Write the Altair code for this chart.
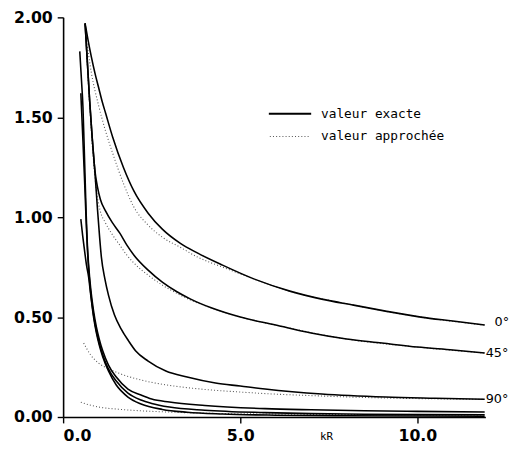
import altair as alt
import pandas as pd

# ---- exact values (solid) ----
e0_u = [0.62, 0.70, 0.80, 0.90, 1.00, 1.10, 1.20, 1.40, 1.70, 2.00, 2.40, 2.80, 3.30, 3.80, 4.50, 5.40, 6.40, 7.30, 8.20, 9.10, 10.10, 11.00, 11.90]
e0_v = [1.97, 1.89, 1.80, 1.72, 1.65, 1.58, 1.52, 1.40, 1.25, 1.13, 1.02, 0.94, 0.87, 0.82, 0.76, 0.69, 0.63, 0.59, 0.56, 0.53, 0.50, 0.48, 0.46]

e45_u = [0.62, 0.68, 0.75, 0.82, 0.90, 0.97, 1.05, 1.20, 1.40, 1.60, 1.80, 2.00, 2.40, 2.80, 3.20, 3.60, 4.20, 5.00, 6.00, 7.00, 8.00, 9.00, 10.00, 11.00, 11.90]
e45_v = [1.97, 1.79, 1.58, 1.40, 1.23, 1.15, 1.09, 1.03, 0.97, 0.92, 0.86, 0.81, 0.735, 0.675, 0.628, 0.59, 0.545, 0.50, 0.46, 0.42, 0.39, 0.37, 0.35, 0.335, 0.32]

e90_u = [0.62, 0.68, 0.75, 0.82, 0.90, 0.97, 1.03, 1.08, 1.18, 1.28, 1.45, 1.64, 1.85, 2.05, 2.40, 2.90, 3.50, 4.30, 5.00, 5.70, 7.30, 9.10, 10.50, 11.90]
e90_v = [1.97, 1.79, 1.58, 1.40, 1.22, 1.04, 0.90, 0.80, 0.69, 0.61, 0.51, 0.44, 0.38, 0.33, 0.28, 0.23, 0.20, 0.17, 0.155, 0.14, 0.115, 0.10, 0.094, 0.089]

ea_u = [0.47, 0.52, 0.56, 0.59, 0.62, 0.65, 0.68, 0.72, 0.78, 0.86, 0.94, 1.02, 1.12, 1.28, 1.50, 1.83, 2.20, 2.50, 3.00, 4.00, 5.70, 7.00, 8.50, 10.00, 11.90]
ea_v = [1.83, 1.68, 1.55, 1.38, 1.20, 1.02, 0.88, 0.76, 0.64, 0.53, 0.45, 0.39, 0.33, 0.26, 0.20, 0.14, 0.11, 0.09, 0.075, 0.058, 0.042, 0.036, 0.031, 0.028, 0.025]

eb_u = [0.50, 0.53, 0.56, 0.59, 0.62, 0.65, 0.68, 0.72, 0.78, 0.86, 0.94, 1.02, 1.12, 1.28, 1.50, 1.83, 2.20, 2.50, 3.00, 4.00, 5.70, 7.00, 8.50, 10.00, 11.90]
eb_v = [1.62, 1.50, 1.38, 1.25, 1.12, 0.98, 0.86, 0.74, 0.62, 0.51, 0.43, 0.37, 0.31, 0.24, 0.18, 0.12, 0.085, 0.068, 0.05, 0.034, 0.022, 0.017, 0.014, 0.012, 0.011]

ec_u = [0.50, 0.55, 0.60, 0.66, 0.72, 0.78, 0.86, 0.94, 1.02, 1.12, 1.28, 1.50, 1.83, 2.20, 2.80, 3.50, 4.50, 6.00, 8.00, 10.00, 11.90]
ec_v = [0.99, 0.91, 0.84, 0.76, 0.70, 0.61, 0.50, 0.42, 0.36, 0.30, 0.23, 0.16, 0.10, 0.065, 0.038, 0.024, 0.015, 0.009, 0.006, 0.005, 0.004]

# ---- approximate values (dotted) ----
a0_u = [0.65, 0.80, 1.00, 1.20, 1.40, 1.70, 2.00, 2.40, 2.80, 3.30, 3.80, 4.50, 5.40, 6.40, 8.20, 10.10, 11.90]
a0_v = [1.90, 1.72, 1.56, 1.43, 1.32, 1.17, 1.05, 0.96, 0.90, 0.85, 0.80, 0.75, 0.69, 0.63, 0.56, 0.50, 0.46]

a45_u = [0.65, 0.75, 0.85, 0.95, 1.05, 1.20, 1.40, 1.60, 1.80, 2.00, 2.40, 2.80, 3.20, 3.60, 4.20, 5.00, 6.00, 8.00, 10.00, 11.90]
a45_v = [1.86, 1.56, 1.30, 1.12, 1.03, 0.97, 0.91, 0.86, 0.81, 0.77, 0.71, 0.66, 0.62, 0.585, 0.545, 0.50, 0.46, 0.39, 0.35, 0.32]

a90_u = [0.58, 0.78, 1.00, 1.30, 1.56, 2.20, 2.94, 4.00, 5.00, 5.72, 7.30, 9.10, 10.50, 11.90]
a90_v = [0.37, 0.31, 0.27, 0.24, 0.22, 0.185, 0.16, 0.138, 0.125, 0.117, 0.105, 0.095, 0.091, 0.088]

ab_u = [0.50, 0.75, 1.00, 1.56, 2.20, 2.94, 4.00, 5.72, 8.00, 10.00, 11.90]
ab_v = [0.074, 0.060, 0.050, 0.039, 0.031, 0.025, 0.019, 0.015, 0.012, 0.011, 0.010]

angle_labels = ["0°", "45°", "90°"]
legend_texts = ["valeur exacte", "valeur approchée"]

series = [
    ("e0", "exact", e0_u, e0_v), ("e45", "exact", e45_u, e45_v), ("e90", "exact", e90_u, e90_v),
    ("ea", "exact", ea_u, ea_v), ("eb", "exact", eb_u, eb_v), ("ec", "exact", ec_u, ec_v),
    ("a0", "approx", a0_u, a0_v), ("a45", "approx", a45_u, a45_v),
    ("a90", "approx", a90_u, a90_v), ("ab", "approx", ab_u, ab_v),
]
rows = []
for name, kind, us, vs in series:
    for a, b in zip(us, vs):
        rows.append({"curve": name, "kind": kind, "kR": a, "val": b})
df = pd.DataFrame(rows)

lab_df = pd.DataFrame({
    "label": angle_labels,
    "kR": [e0_u[-1], e45_u[-1], e90_u[-1]],
    "val": [e0_v[-1], e45_v[-1], e90_v[-1]],
})

xenc = alt.X("kR:Q", scale=alt.Scale(domain=[0, 11.92], nice=False, zero=False),
             axis=alt.Axis(values=[0, 5, 10], format=".1f", title="kR",
                           titleX=267, titleY=20, titleBaseline="middle",
                           titleFont="DejaVu Sans Mono", titleFontSize=11,
                           titleFontWeight="normal", titleColor="black"))
yenc = alt.Y("val:Q", scale=alt.Scale(domain=[0, 2], nice=False),
             axis=alt.Axis(values=[0, 0.5, 1, 1.5, 2], format=".2f", title=None))

base = alt.Chart(df).encode(x=xenc, y=yenc, detail="curve:N")

solid = base.transform_filter(alt.datum.kind == "exact").mark_line(
    color="black", strokeWidth=1.6, clip=True, interpolate="monotone")
dotted = base.transform_filter(alt.datum.kind == "approx").mark_line(
    color="#555555", strokeWidth=1.1, strokeDash=[1, 2.2], clip=True, interpolate="monotone")

lab0 = alt.Chart(lab_df).transform_filter(alt.datum.label == "0°").mark_text(
    align="left", baseline="middle", dx=10, dy=-3, font="DejaVu Sans", fontSize=13,
    color="black").encode(x="kR:Q", y="val:Q", text="label:N")
labs = alt.Chart(lab_df).transform_filter(alt.datum.label != "0°").mark_text(
    align="left", baseline="middle", dx=1, dy=0, font="DejaVu Sans", fontSize=13,
    color="black").encode(x="kR:Q", y="val:Q", text="label:N")

leg_df = pd.DataFrame({"t": legend_texts, "k": ["exact", "approx"]})
leg_solid = alt.Chart(leg_df).transform_filter(alt.datum.k == "exact").mark_rule(
    color="black", strokeWidth=2).encode(x=alt.value(209), x2=alt.value(252), y=alt.value(98))
leg_dot = alt.Chart(leg_df).transform_filter(alt.datum.k == "approx").mark_rule(
    color="#555555", strokeWidth=1.1, strokeDash=[1, 2.2]).encode(
    x=alt.value(210), x2=alt.value(250), y=alt.value(121))
leg_t1 = alt.Chart(leg_df).transform_filter(alt.datum.k == "exact").mark_text(
    align="left", baseline="middle", font="DejaVu Sans Mono", fontSize=13, color="black").encode(
    x=alt.value(262), y=alt.value(98), text="t:N")
leg_t2 = alt.Chart(leg_df).transform_filter(alt.datum.k == "approx").mark_text(
    align="left", baseline="middle", font="DejaVu Sans Mono", fontSize=13, color="black").encode(
    x=alt.value(262), y=alt.value(121), text="t:N")

chart = alt.layer(dotted, solid, lab0, labs, leg_solid, leg_dot, leg_t1, leg_t2).properties(
    width=429, height=406,
    autosize=alt.AutoSizeParams(type="none"),
    padding={"left": 56, "top": 6, "right": 25, "bottom": 30},
    background="white",
).configure_view(stroke=None).configure_axis(
    grid=False, domainColor="black", domainWidth=1.6, tickColor="black",
    tickSize=6, tickWidth=1.4, labelFont="DejaVu Sans", labelFontWeight="bold",
    labelFontSize=16, labelColor="black", labelPadding=5,
)

chart.save("out.html", embed_options={"renderer": "svg", "actions": False})
